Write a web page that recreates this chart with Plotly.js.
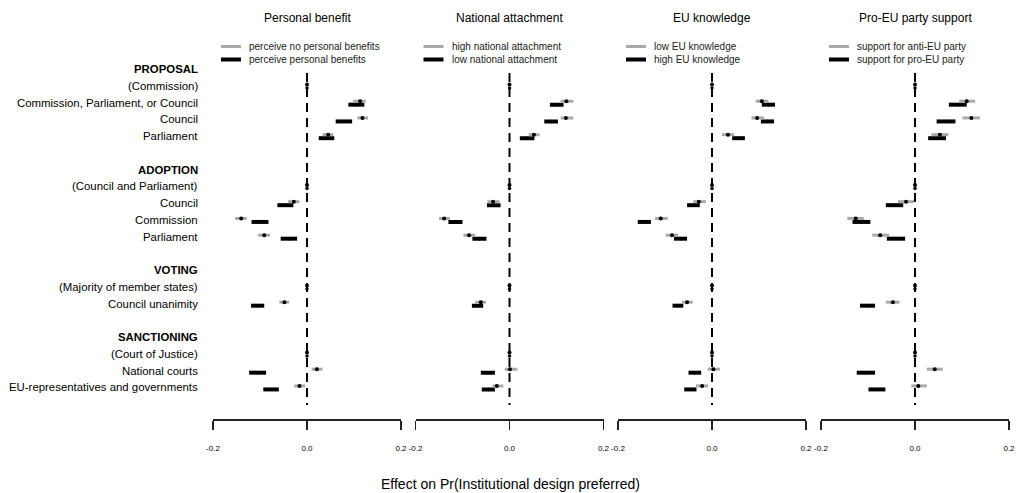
<!DOCTYPE html>
<html>
<head>
<meta charset="utf-8">
<script src="https://cdn.plot.ly/plotly-3.0.1.min.js"></script>
<style>html,body{margin:0;padding:0;background:#fff;}#chart{width:1016px;height:493px;}</style>
</head>
<body>
<div id="chart"></div>
<script>
// ---- Data ----
var rowLabels = ['PROPOSAL','(Commission)','Commission, Parliament, or Council','Council','Parliament','',
  'ADOPTION','(Council and Parliament)','Council','Commission','Parliament','',
  'VOTING','(Majority of member states)','Council unanimity','',
  'SANCTIONING','(Court of Justice)','National courts','EU-representatives and governments'];
var headerRows = [0, 6, 12, 16];
var dataRows = [1, 2, 3, 4, 7, 8, 9, 10, 13, 14, 17, 18, 19];

var panelTitles = ['Personal benefit', 'National attachment', 'EU knowledge', 'Pro-EU party support'];
var greyNames = ['perceive no personal benefits', 'high national attachment', 'low EU knowledge', 'support for anti-EU party'];
var blackNames = ['perceive personal benefits', 'low national attachment', 'high EU knowledge', 'support for pro-EU party'];

var tickVals = [-0.2, 0, 0.2];
var tickText = ['-0.2', '0.0', '0.2'];
var xTitle = 'Effect on Pr(Institutional design preferred)';

// Panel 1: Personal benefit
var p1GreyPt = [0, 0.113, 0.118, 0.045, 0, -0.028, -0.140, -0.091, 0, -0.048, 0, 0.021, -0.016];
var p1GreyLo = [0, 0.098, 0.107, 0.033, 0, -0.040, -0.153, -0.104, 0, -0.059, 0, 0.010, -0.027];
var p1GreyHi = [0, 0.125, 0.130, 0.056, 0, -0.016, -0.128, -0.079, 0, -0.038, 0, 0.033, -0.004];
var p1BlackLo = [0, 0.088, 0.061, 0.025, 0, -0.063, -0.118, -0.056, 0, -0.119, 0, -0.123, -0.093];
var p1BlackHi = [0, 0.122, 0.096, 0.058, 0, -0.029, -0.082, -0.021, 0, -0.091, 0, -0.087, -0.060];

// Panel 2: National attachment
var p2GreyPt = [0, 0.121, 0.120, 0.052, 0, -0.035, -0.139, -0.086, 0, -0.061, 0, 0.001, -0.027];
var p2GreyLo = [0, 0.109, 0.109, 0.041, 0, -0.047, -0.150, -0.098, 0, -0.073, 0, -0.010, -0.036];
var p2GreyHi = [0, 0.136, 0.136, 0.064, 0, -0.021, -0.127, -0.073, 0, -0.050, 0, 0.017, -0.013];
var p2BlackLo = [0, 0.086, 0.074, 0.022, 0, -0.048, -0.130, -0.079, 0, -0.080, 0, -0.061, -0.059];
var p2BlackHi = [0, 0.115, 0.103, 0.053, 0, -0.019, -0.100, -0.049, 0, -0.056, 0, -0.031, -0.031];

// Panel 3: EU knowledge
var p3GreyPt = [0, 0.106, 0.096, 0.034, 0, -0.028, -0.109, -0.085, 0, -0.053, 0, 0.003, -0.021];
var p3GreyLo = [0, 0.093, 0.084, 0.021, 0, -0.040, -0.121, -0.098, 0, -0.064, 0, -0.009, -0.034];
var p3GreyHi = [0, 0.120, 0.111, 0.047, 0, -0.013, -0.094, -0.072, 0, -0.041, 0, 0.017, -0.008];
var p3BlackLo = [0, 0.106, 0.104, 0.043, 0, -0.053, -0.158, -0.081, 0, -0.084, 0, -0.050, -0.059];
var p3BlackHi = [0, 0.134, 0.132, 0.070, 0, -0.026, -0.130, -0.053, 0, -0.061, 0, -0.023, -0.033];

// Panel 4: Pro-EU party support
var p4GreyPt = [0, 0.110, 0.120, 0.053, 0, -0.019, -0.126, -0.074, 0, -0.047, 0, 0.042, 0.007];
var p4GreyLo = [0, 0.094, 0.101, 0.035, 0, -0.036, -0.144, -0.091, 0, -0.062, 0, 0.025, -0.008];
var p4GreyHi = [0, 0.128, 0.138, 0.071, 0, -0.002, -0.109, -0.055, 0, -0.033, 0, 0.059, 0.025];
var p4BlackLo = [0, 0.072, 0.046, 0.028, 0, -0.062, -0.133, -0.060, 0, -0.117, 0, -0.124, -0.099];
var p4BlackHi = [0, 0.110, 0.086, 0.066, 0, -0.025, -0.095, -0.021, 0, -0.085, 0, -0.085, -0.063];

var panels = [
  {gp: p1GreyPt, gl: p1GreyLo, gh: p1GreyHi, bl: p1BlackLo, bh: p1BlackHi},
  {gp: p2GreyPt, gl: p2GreyLo, gh: p2GreyHi, bl: p2BlackLo, bh: p2BlackHi},
  {gp: p3GreyPt, gl: p3GreyLo, gh: p3GreyHi, bl: p3BlackLo, bh: p3BlackHi},
  {gp: p4GreyPt, gl: p4GreyLo, gh: p4GreyHi, bl: p4BlackLo, bh: p4BlackHi}
];

// ---- Layout geometry (pixels) ----
var W = 1016, H = 493;
var panelLeft = [213, 415.5, 618, 821];
var panelWidth = 188;
var GREY = '#a9a9a9';
var FONT = 'Liberation Sans, Arial, Helvetica, sans-serif';
var greyOff = -0.08, blackOff = 0.13;

var traces = [];
var layout = {
  width: W, height: H,
  margin: {l: 0, r: 0, t: 0, b: 0},
  paper_bgcolor: '#fff', plot_bgcolor: 'rgba(0,0,0,0)',
  showlegend: false,
  font: {family: FONT, color: '#000'},
  yaxis: {range: [(H - 69) / 16.75, -69 / 16.75], domain: [0, 1], visible: false, fixedrange: true},
  shapes: [], annotations: []
};

function px(x) { return x / W; }
function py(y) { return 1 - y / H; }

panels.forEach(function (p, i) {
  var xa = i === 0 ? 'x' : 'x' + (i + 1);
  var xkey = i === 0 ? 'xaxis' : 'xaxis' + (i + 1);
  var x0 = panelLeft[i];
  layout[xkey] = {
    domain: [px(x0), px(x0 + panelWidth)],
    range: [-0.2, 0.2],
    anchor: 'free', position: 1 - 419 / H,
    showline: true, linecolor: '#222', linewidth: 1.6,
    ticks: 'outside', ticklen: 9, tickwidth: 1.6, tickcolor: '#222',
    tickvals: tickVals, ticktext: tickText,
    tickfont: {family: 'Liberation Sans Narrow, Arial Narrow, ' + FONT, size: 8, color: '#000'},
    ticklabelstandoff: 12,
    showgrid: false, zeroline: false, fixedrange: true
  };

  var yG = dataRows.map(function (r) { return r + greyOff; });
  var yB = dataRows.map(function (r) { return r + blackOff; });
  var bMid = p.bl.map(function (v, k) { return (v + p.bh[k]) / 2; });

  // black intervals
  traces.push({
    type: 'scatter', mode: 'markers', xaxis: xa, yaxis: 'y',
    x: bMid, y: yB, hoverinfo: 'skip',
    marker: {color: '#000', size: 3.5},
    error_x: {type: 'data', symmetric: false,
      array: p.bh.map(function (v, k) { return v - bMid[k]; }),
      arrayminus: bMid.map(function (v, k) { return v - p.bl[k]; }),
      color: '#000', thickness: 4, width: 0}
  });
  // grey intervals with black point estimate
  traces.push({
    type: 'scatter', mode: 'markers', xaxis: xa, yaxis: 'y',
    x: p.gp, y: yG, hoverinfo: 'skip',
    marker: {color: '#000', size: 4},
    error_x: {type: 'data', symmetric: false,
      array: p.gh.map(function (v, k) { return v - p.gp[k]; }),
      arrayminus: p.gp.map(function (v, k) { return v - p.gl[k]; }),
      color: GREY, thickness: 3, width: 0}
  });

  // dashed zero line
  layout.shapes.push({type: 'line', xref: xa, yref: 'y', x0: 0, x1: 0,
    y0: (73 - 69) / 16.75, y1: (405 - 69) / 16.75,
    line: {color: '#000', width: 2, dash: '9px,6px'}, layer: 'below'});

  // legend samples
  layout.shapes.push({type: 'line', xref: 'paper', yref: 'paper',
    x0: px(x0 + 8), x1: px(x0 + 28), y0: py(46.5), y1: py(46.5),
    line: {color: GREY, width: 3}});
  layout.shapes.push({type: 'line', xref: 'paper', yref: 'paper',
    x0: px(x0 + 8), x1: px(x0 + 28), y0: py(59.5), y1: py(59.5),
    line: {color: '#000', width: 4}});
  layout.annotations.push({xref: 'paper', yref: 'paper', x: px(x0 + 34), y: py(46.5),
    xanchor: 'left', yanchor: 'middle', text: greyNames[i], showarrow: false,
    font: {size: 10, color: '#222'}});
  layout.annotations.push({xref: 'paper', yref: 'paper', x: px(x0 + 34), y: py(59.5),
    xanchor: 'left', yanchor: 'middle', text: blackNames[i], showarrow: false,
    font: {size: 10, color: '#222'}});

  // panel title
  layout.annotations.push({xref: 'paper', yref: 'paper', x: px(x0 + panelWidth / 2), y: py(18),
    xanchor: 'center', yanchor: 'middle', text: panelTitles[i], showarrow: false,
    font: {size: 12, color: '#000'}});
});

// row labels
rowLabels.forEach(function (lab, r) {
  if (!lab) return;
  var isHead = headerRows.indexOf(r) >= 0;
  layout.annotations.push({xref: 'paper', yref: 'y', x: px(200), y: r,
    xanchor: 'right', yanchor: 'middle', showarrow: false,
    text: isHead ? '<b>' + lab + '</b>' : lab,
    font: {size: 11.4, color: '#000'}});
});

// x title
layout.annotations.push({xref: 'paper', yref: 'paper', x: px(510), y: py(484),
  xanchor: 'center', yanchor: 'middle', text: xTitle, showarrow: false,
  font: {size: 14, color: '#000'}});

Plotly.newPlot('chart', traces, layout, {staticPlot: true, displayModeBar: false});
</script>
</body>
</html>
